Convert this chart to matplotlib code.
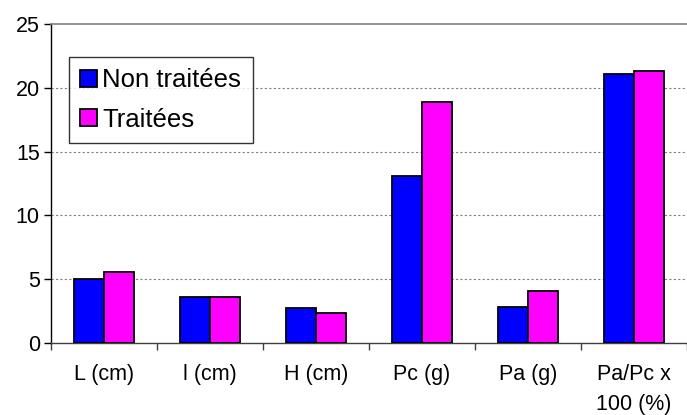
import numpy as np
import matplotlib
matplotlib.use("Agg")
import matplotlib.pyplot as plt

# Data
categories = ["L (cm)", "l (cm)", "H (cm)", "Pc (g)", "Pa (g)", "Pa/Pc x\n100 (%)"]
non_traitees = [5.0, 3.6, 2.77, 13.1, 2.8, 21.1]
traitees = [5.6, 3.6, 2.33, 18.9, 4.1, 21.3]

plt.rcParams['font.family'] = ['Liberation Sans', 'DejaVu Sans']

fig = plt.figure(figsize=(6.87, 4.15), dpi=100)
ax = fig.add_axes([0.0742, 0.1735, 0.9258, 0.7685])

x = np.arange(len(categories))
w = 0.28
ax.bar(x - w / 2, non_traitees, w, color='#0000ff', edgecolor='black',
       linewidth=1.3, label='Non traitées', zorder=3)
ax.bar(x + w / 2, traitees, w, color='#ff00ff', edgecolor='black',
       linewidth=1.3, label='Traitées', zorder=3)

ax.set_xlim(-0.5, len(categories) - 0.5)
ax.set_ylim(0, 25)
ax.set_yticks([0, 5, 10, 15, 20, 25])
ax.set_xticks(x)
ax.set_xticklabels(categories, fontsize=15.5, linespacing=1.6)
ax.set_xticks(np.arange(len(categories) + 1) - 0.5, minor=True)
ax.tick_params(axis='x', which='major', length=0, pad=15)
ax.tick_params(axis='x', which='minor', length=5, width=1, color='#404040', direction='out')
ax.tick_params(axis='y', labelsize=15.5, length=5, width=1, direction='out', pad=3)

# grid lines
for yv in [5, 10, 15, 20]:
    ax.axhline(yv, color='#808080', linestyle=(0, (2, 2)), linewidth=0.8, zorder=1)

ax.spines['right'].set_visible(False)
ax.spines['top'].set_color('#808080')
ax.spines['top'].set_linewidth(1.2)
ax.spines['left'].set_color('black')
ax.spines['left'].set_linewidth(1)
ax.spines['bottom'].set_color('#404040')
ax.spines['bottom'].set_linewidth(1)

leg = ax.legend(loc='upper left', bbox_to_anchor=(0.028, 0.898), fontsize=18.5,
                frameon=True, fancybox=False, shadow=False, handlelength=0.65,
                handleheight=0.65, handletextpad=0.2, borderpad=0.45,
                labelspacing=0.6, borderaxespad=0)
leg.get_frame().set_edgecolor('black')
leg.get_frame().set_linewidth(1)

fig.savefig("out.png", dpi=100)
